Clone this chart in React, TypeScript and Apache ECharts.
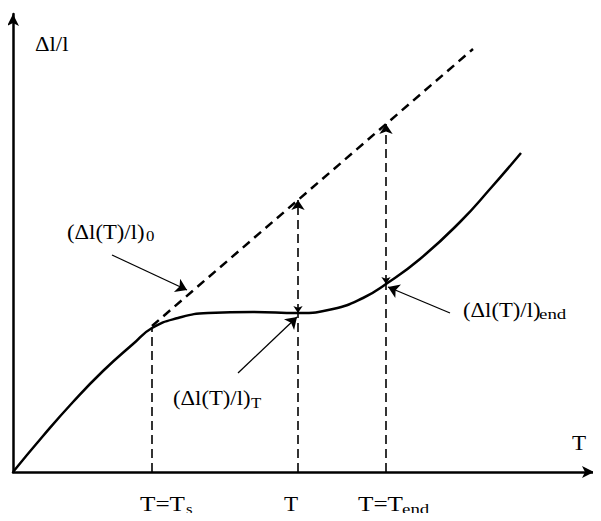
import React, { useEffect, useRef } from "react";
import * as echarts from "echarts";

// Measured curve (T in plot units, Δl/l in plot units)
const curveT = [0, 30, 60, 90, 120, 139, 165, 195, 240, 285, 320, 350, 373, 407, 447, 477, 508];
const curveY = [0, 36, 70, 101, 128, 144, 154, 159, 160, 159, 163, 174, 188, 213, 250, 283, 319];
// Free (unconstrained) expansion, dashed
const freeT = [139, 460];
const freeY = [146, 423];
// Marked temperatures: Ts, T, Tend
const markNames = ["T=Ts", "T", "T=Tend"];
const markT = [139, 285, 373];
const markCurveY = [144, 159, 188];
const markFreeY = [146, 272, 348];
// Annotation pointer arrows: [T, Δl/l]
const pointerFrom = [[99, 217], [225, 99], [437, 159]];
const pointerTo = [[174, 182], [284, 155], [375, 185]];

const FONT = "'Liberation Serif', 'Times New Roman', serif";

export default function App() {
  const ref = useRef<HTMLDivElement>(null);
  useEffect(() => {
    if (!ref.current) return;
    const chart = echarts.init(ref.current, undefined, { renderer: "svg" });
    const txt = (x: number, y: number, text: string, size: number, sx: number, align = "left") => ({
      type: "text",
      x,
      y,
      scaleX: sx,
      silent: true,
      style: { text, align, verticalAlign: "middle", fill: "#000", font: `${size}px ${FONT}` },
    });
    chart.setOption({
      animation: false,
      backgroundColor: "#fff",
      grid: { left: 13, right: 7, top: 14, bottom: 49 },
      xAxis: {
        type: "value",
        min: 0,
        max: 581,
        axisLine: { show: true, onZero: false, symbol: ["none", "arrow"], symbolSize: [9, 12], lineStyle: { color: "#000", width: 2.5 } },
        axisTick: { show: false },
        axisLabel: { show: false },
        splitLine: { show: false },
      },
      yAxis: {
        type: "value",
        min: 0,
        max: 458,
        axisLine: { show: true, onZero: false, symbol: ["none", "arrow"], symbolSize: [9, 12], lineStyle: { color: "#000", width: 2.5 } },
        axisTick: { show: false },
        axisLabel: { show: false },
        splitLine: { show: false },
      },
      series: [
        {
          type: "line",
          data: curveT.map((t, i) => [t, curveY[i]]),
          smooth: 0.5,
          showSymbol: false,
          lineStyle: { color: "#000", width: 2.5 },
          z: 5,
        },
        {
          type: "line",
          data: freeT.map((t, i) => [t, freeY[i]]),
          showSymbol: false,
          lineStyle: { color: "#000", width: 2.5, type: [9, 6] },
          z: 4,
        },
        {
          type: "lines",
          coordinateSystem: "cartesian2d",
          symbol: ["none", "none"],
          lineStyle: { color: "#000", width: 1.6, type: [9, 5], opacity: 1 },
          data: markT.map((t, i) => ({ coords: [[t, 0], [t, markCurveY[i]]] })),
          z: 3,
        },
        {
          type: "lines",
          coordinateSystem: "cartesian2d",
          symbol: ["arrow", "arrow"],
          symbolSize: [7, 10],
          lineStyle: { color: "#000", width: 1.6, type: [9, 5], opacity: 1 },
          data: markT.slice(1).map((t, i) => ({ coords: [[t, markCurveY[i + 1]], [t, markFreeY[i + 1]]] })),
          z: 3,
        },
        {
          type: "lines",
          coordinateSystem: "cartesian2d",
          symbol: ["none", "arrow"],
          symbolSize: [9, 11],
          lineStyle: { color: "#000", width: 1.3, opacity: 1 },
          data: pointerFrom.map((f, i) => ({ coords: [f, pointerTo[i]] })),
          z: 6,
        },
      ],
      graphic: [
        txt(35, 44, "Δl/l", 21, 1.08),
        txt(67, 232, "(Δl(T)/l)", 21, 1.08),
        txt(146, 236, "0", 14, 1.2),
        txt(173, 398, "(Δl(T)/l)", 21, 1.08),
        txt(251, 403, "T", 14, 1.2),
        txt(463, 310, "(Δl(T)/l)", 21, 1.08),
        txt(539, 314, "end", 14, 1.35),
        txt(572, 443, "T", 21, 1.1),
        txt(140, 504, "T=T", 21, 1.2),
        txt(186, 509, "s", 14, 1.2),
        txt(291, 504, markNames[1], 21, 1.1, "center"),
        txt(358, 504, "T=T", 21, 1.2),
        txt(402, 509, "end", 14, 1.35),
      ],
    });
    return () => chart.dispose();
  }, []);
  return <div ref={ref} style={{ width: 601, height: 521, margin: -8 }} />;
}
